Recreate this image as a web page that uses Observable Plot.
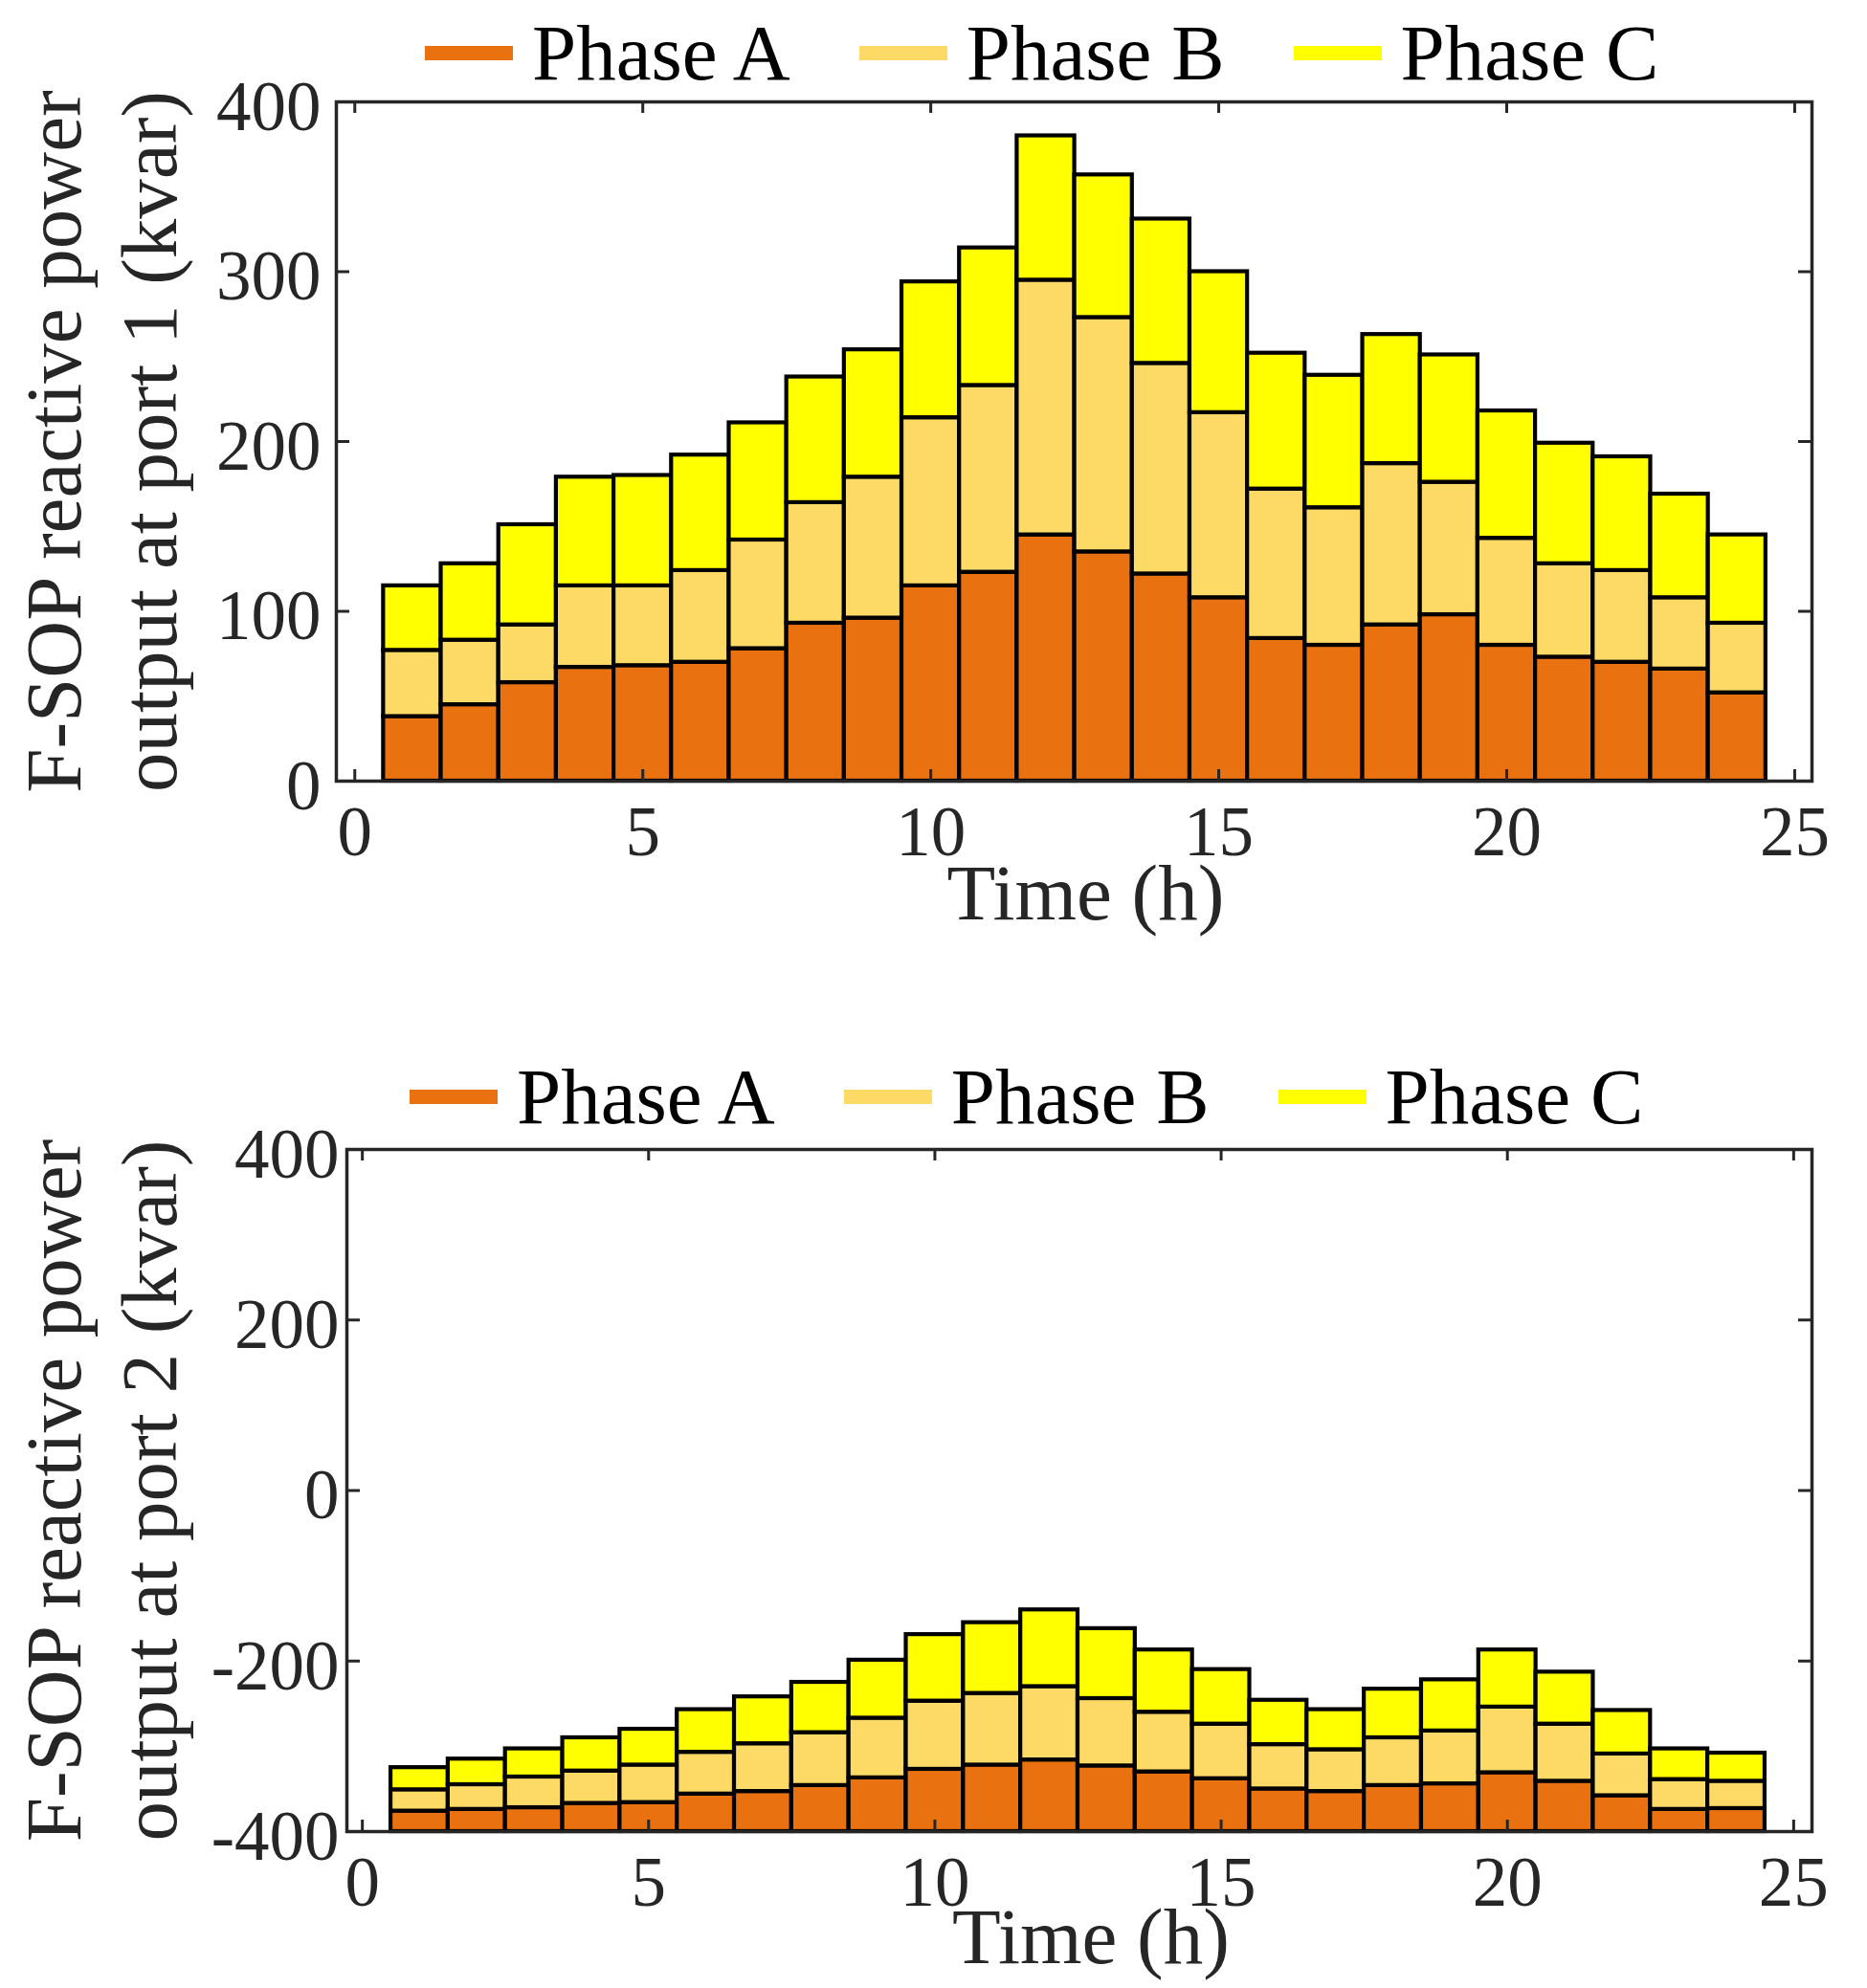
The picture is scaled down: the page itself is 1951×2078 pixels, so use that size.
<!DOCTYPE html>
<html>
<head>
<meta charset="utf-8">
<script src="https://cdn.jsdelivr.net/npm/d3@7"></script>
<script src="https://cdn.jsdelivr.net/npm/@observablehq/plot@0.6"></script>
<style>
  body { margin: 0; background: #fff; }
  #page { position: relative; width: 1951px; height: 2078px; overflow: hidden;
          font-family: "Liberation Serif", "Times New Roman", serif; background: #fff; }
  .panel { position: absolute; left: 0; }
  .legend { position: absolute; display: flex; align-items: center; height: 83px;
            font-size: 83px; line-height: 1; color: #000; white-space: nowrap; }
  .legend .item { display: flex; align-items: center; margin-right: 72px; }
  .legend .sw { width: 92px; height: 15px; margin-right: 20px; }
</style>
</head>
<body>
<div id="page"></div>
<script>
// ---------- data ----------
const hours = [1,2,3,4,5,6,7,8,9,10,11,12,13,14,15,16,17,18,19,20,21,22,23,24];
const phases = ["Phase A", "Phase B", "Phase C"];
const phaseColors = ["#E97110", "#FDD966", "#FFFF00"];

// Port 1: stacked segment values (kvar)
const port1A = [38,45,58,67,68,70,78,93,96,115,123,145,135,122,108,84,80,92,98,80,73,70,66,52];
const port1B = [39,38,34,48,47,54,64,71,83,99,110,150,138,124,109,88,81,95,78,63,55,54,42,41];
const port1C = [38,45,59,64,65,68,69,74,75,80,81,85,84,85,83,80,78,76,75,75,71,67,61,52];

// Port 2: stacked segment values (kvar), stacked up from the axis floor
const port2A = [24,26,28,33,34,44,47,54,63,73,78,84,77,70,62,50,47,54,56,69,59,42,26,27];
const port2B = [25,29,36,38,44,49,56,62,70,80,84,86,79,70,64,52,49,56,62,77,67,49,35,32];
const port2C = [26,30,33,39,42,50,55,59,68,78,83,90,82,73,64,52,47,57,60,67,61,51,36,33];

const xTicks = [0, 5, 10, 15, 20, 25];
const yTicks1 = [0, 100, 200, 300, 400];
const yTicks2 = [-400, -200, 0, 200, 400];
const yDomain1 = [0, 400];
const yDomain2 = [-400, 400];
const xLabel = "Time (h)";
const yLabel1 = ["F-SOP reactive power", "output at port 1 (kvar)"];
const yLabel2 = ["F-SOP reactive power", "output at port 2 (kvar)"];

// ---------- build stacked rows ----------
function stackRows(series, base) {
  const rows = [];
  hours.forEach((h, i) => {
    let acc = base;
    series.forEach((s, k) => {
      rows.push({hour: h, phase: phases[k], y1: acc, y2: acc + s[i]});
      acc += s[i];
    });
  });
  return rows;
}
const rows1 = stackRows([port1A, port1B, port1C], yDomain1[0]);
const rows2 = stackRows([port2A, port2B, port2C], yDomain2[0]);

const page = document.getElementById("page");
const W = 1951;
const INK = "#262626";

function makePanel({rows, top, height, marginLeft, xDomain, yDomain, yTicks, yLabel, yPad, labelDy, legendTop, legendLeft}) {
  const marginTop = 6, marginBottom = 164, marginRight = 58;
  const innerW = W - marginLeft - marginRight;
  const innerH = height - marginTop - marginBottom;
  const lineX = [56.5, 156.5];
  const chart = Plot.plot({
    width: W, height, marginTop, marginBottom, marginLeft, marginRight,
    x: {domain: xDomain, axis: null},
    y: {domain: yDomain, axis: null},
    color: {domain: phases, range: phaseColors},
    style: {fontFamily: '"Liberation Serif", "Times New Roman", serif', overflow: "visible", background: "transparent"},
    marks: [
      Plot.rect(rows, {x1: d => d.hour - 0.5, x2: d => d.hour + 0.5, y1: "y1", y2: "y2",
        fill: "phase", stroke: "#000", strokeWidth: 4.2}),
      Plot.frame({stroke: INK, strokeWidth: 3.5}),
      Plot.ruleX(xTicks, {x: d => d, stroke: INK, strokeWidth: 3, insetTop: innerH - 12}),
      Plot.ruleX(xTicks, {x: d => d, stroke: INK, strokeWidth: 3, insetBottom: innerH - 12}),
      Plot.ruleY(yTicks, {y: d => d, stroke: INK, strokeWidth: 3, insetRight: innerW - 14}),
      Plot.ruleY(yTicks, {y: d => d, stroke: INK, strokeWidth: 3, insetLeft: innerW - 14}),
      Plot.axisX(xTicks, {anchor: "bottom", tickSize: 0, tickPadding: 26, fontSize: 73,
        fill: INK, label: null, tickFormat: d => String(d)}),
      Plot.axisY(yTicks, {anchor: "left", tickSize: 0, tickPadding: yPad, fontSize: 73,
        fill: INK, label: null, dy: 6, tickFormat: d => String(d)}),
      Plot.text([xLabel], {text: d => d, frameAnchor: "bottom", lineAnchor: "middle",
        textAnchor: "middle", dy: labelDy, dx: 12, fontSize: 83, fill: INK}),
      Plot.text([yLabel[0]], {text: d => d, frameAnchor: "left", rotate: -90,
        textAnchor: "middle", lineAnchor: "middle",
        dx: lineX[0] - marginLeft, fontSize: 83, fill: INK}),
      Plot.text([yLabel[1]], {text: d => d, frameAnchor: "left", rotate: -90,
        textAnchor: "middle", lineAnchor: "middle",
        dx: lineX[1] - marginLeft, fontSize: 83, fill: INK})
    ]
  });
  const wrap = document.createElement("div");
  wrap.className = "panel";
  wrap.style.top = top + "px";
  wrap.appendChild(chart);
  page.appendChild(wrap);

  const legend = document.createElement("div");
  legend.className = "legend";
  legend.style.top = legendTop + "px";
  legend.style.left = legendLeft + "px";
  phases.forEach((p, k) => {
    const item = document.createElement("div");
    item.className = "item";
    const sw = document.createElement("div");
    sw.className = "sw";
    sw.style.background = phaseColors[k];
    const t = document.createElement("span");
    t.textContent = p;
    item.appendChild(sw);
    item.appendChild(t);
    legend.appendChild(item);
  });
  page.appendChild(legend);
}

makePanel({rows: rows1, top: 100, height: 880, marginLeft: 351, xDomain: [-0.32, 25.3],
  yDomain: yDomain1, yTicks: yTicks1, yLabel: yLabel1, yPad: 16, labelDy: 118,
  legendTop: 14, legendLeft: 444});
makePanel({rows: rows2, top: 1195, height: 883, marginLeft: 362, xDomain: [-0.27, 25.32],
  yDomain: yDomain2, yTicks: yTicks2, yLabel: yLabel2, yPad: 8, labelDy: 111,
  legendTop: 1105, legendLeft: 428});
</script>
</body>
</html>
